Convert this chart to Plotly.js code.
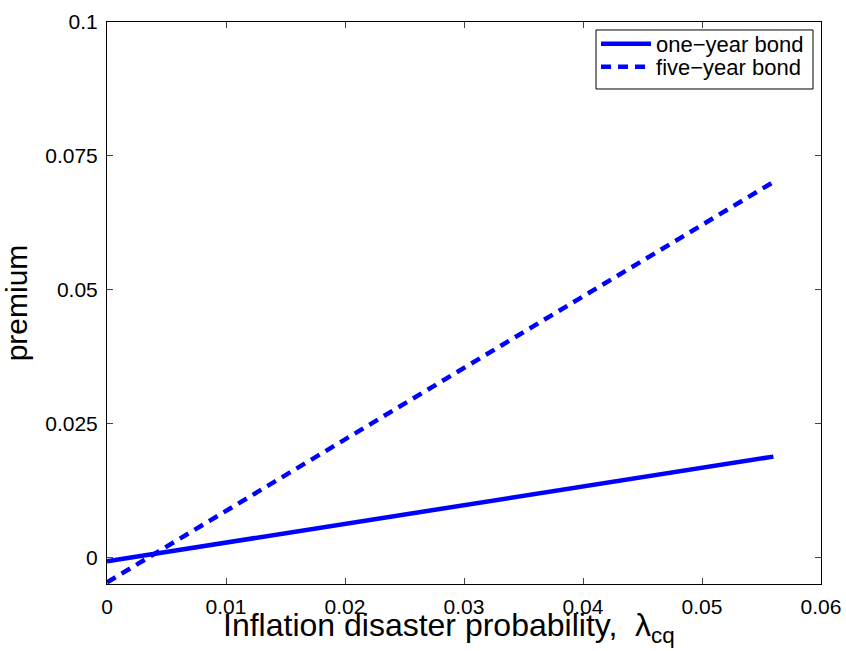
<!DOCTYPE html>
<html>
<head>
<meta charset="utf-8">
<script src="https://cdn.plot.ly/plotly-3.0.1.min.js"></script>
<style>html,body{margin:0;padding:0;background:#fff;}#chart{width:846px;height:651px;}</style>
</head>
<body>
<div id="chart"></div>
<script>
// Data
var probability = [0, 0.056];
var oneYearPremium = [-0.00075, 0.0188];
var fiveYearPremium = [-0.0047, 0.0701];
var seriesNames = ['one\u2212year bond', 'five\u2212year bond'];
var xTickVals = [0, 0.01, 0.02, 0.03, 0.04, 0.05, 0.06];
var xTickText = ['0', '0.01', '0.02', '0.03', '0.04', '0.05', '0.06'];
var yTickVals = [0, 0.025, 0.05, 0.075, 0.1];
var yTickText = ['0', '0.025', '0.05', '0.075', '0.1'];
var xTitle = 'Inflation disaster probability,  \u03bb<sub>cq</sub>';
var yTitle = 'premium';

var FONT = 'Liberation Sans, Arial, Helvetica, sans-serif';

var traces = [
  {x: probability, y: oneYearPremium, name: seriesNames[0], mode: 'lines', legend: 'legend',
   line: {color: '#0000ff', width: 4.5, dash: 'solid'}},
  {x: probability, y: fiveYearPremium, name: seriesNames[1], mode: 'lines', legend: 'legend2',
   line: {color: '#0000ff', width: 4.5, dash: '10px,7px'}}
];

var axisCommon = {
  showgrid: false, zeroline: false, showline: true, linecolor: '#000', linewidth: 1,
  mirror: 'allticks', ticks: 'inside', ticklen: 6, tickcolor: '#444', tickwidth: 1,
  tickfont: {family: FONT, size: 21, color: '#000'}, tickmode: 'array'
};

var legendCommon = {
  xanchor: 'left', yanchor: 'top', x: 0.6849,
  borderwidth: 0, bgcolor: 'rgba(0,0,0,0)', itemwidth: 50,
  font: {family: FONT, size: 22, color: '#000'}
};

var layout = {
  width: 846, height: 651,
  margin: {l: 107, r: 25, t: 22, b: 67},
  paper_bgcolor: '#fff', plot_bgcolor: '#fff',
  font: {family: FONT, color: '#000'},
  showlegend: true,
  xaxis: Object.assign({}, axisCommon, {
    range: [0, 0.06], tickvals: xTickVals, ticktext: xTickText, ticklabelstandoff: 4
  }),
  yaxis: Object.assign({}, axisCommon, {
    range: [-0.005, 0.1], tickvals: yTickVals, ticktext: yTickText, ticklabelstandoff: 4,
    title: {text: yTitle, font: {family: FONT, size: 30, color: '#000'}, standoff: 13},
    automargin: false
  }),
  legend: Object.assign({}, legendCommon, {y: 0.9982}),
  legend2: Object.assign({}, legendCommon, {y: 0.9573}),
  shapes: [{
    type: 'rect', xref: 'paper', yref: 'paper', layer: 'below',
    x0: 0.6849, x1: 0.9888, y0: 0.8808, y1: 0.9858,
    line: {color: '#000', width: 1}, fillcolor: '#fff'
  }],
  annotations: [{
    text: xTitle, xref: 'paper', yref: 'paper', x: 0.1597, xanchor: 'left',
    y: 0, yanchor: 'top', yshift: -21, showarrow: false,
    font: {family: FONT, size: 32, color: '#000'}
  }]
};

Plotly.newPlot('chart', traces, layout, {displayModeBar: false, staticPlot: true});
</script>
</body>
</html>
